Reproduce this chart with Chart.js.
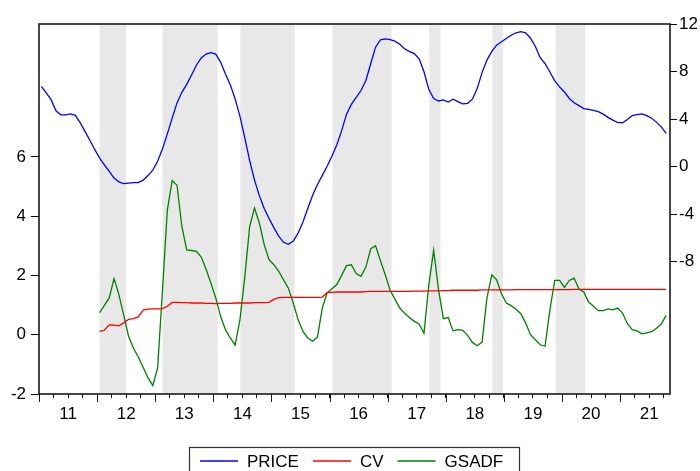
<!DOCTYPE html>
<html>
<head>
<meta charset="utf-8">
<script src="https://cdn.jsdelivr.net/npm/chart.js@4.4.0/dist/chart.umd.min.js"></script>
<style>
  html, body { margin: 0; padding: 0; background: #fff; }
</style>
</head>
<body>
<canvas id="chart" width="700" height="471"></canvas>
<script>
// monthly data, index 0 = 2011M01
const yearLabels = ['11', '12', '13', '14', '15', '16', '17', '18', '19', '20', '21'];
const testStart = 12; // CV and GSADF start in 2012M01

const price = [
  6.74, 6.2, 5.63, 4.69, 4.36, 4.35, 4.43, 4.31, 3.70, 2.96,
  2.21, 1.44, 0.73, 0.15, -0.40, -0.96, -1.30, -1.44, -1.40, -1.36,
  -1.35, -1.15, -0.76, -0.30, 0.45, 1.49, 2.75, 4.08, 5.36, 6.25,
  6.92, 7.70, 8.53, 9.14, 9.47, 9.58, 9.47, 8.79, 7.79, 6.89,
  5.69, 4.22, 2.41, 0.49, -1.14, -2.45, -3.54, -4.37, -5.14, -5.87,
  -6.38, -6.55, -6.27, -5.61, -4.66, -3.54, -2.42, -1.51, -0.74, 0.02,
  0.88, 1.83, 3.02, 4.41, 5.23, 5.82, 6.40, 7.24, 8.65, 10.05,
  10.66, 10.74, 10.68, 10.56, 10.29, 9.92, 9.68, 9.51, 9.07, 7.98,
  6.49, 5.72, 5.52, 5.61, 5.43, 5.67, 5.47, 5.28, 5.32, 5.67,
  6.58, 7.93, 8.96, 9.69, 10.22, 10.50, 10.78, 11.05, 11.26, 11.35,
  11.25, 10.80, 10.11, 9.16, 8.66, 7.96, 7.21, 6.71, 6.28, 5.73,
  5.37, 5.13, 4.88, 4.81, 4.73, 4.62, 4.41, 4.14, 3.91, 3.71,
  3.68, 3.96, 4.29, 4.37, 4.43, 4.28, 4.07, 3.74, 3.34, 2.80
];

const cv = [
  0.11, 0.15, 0.33, 0.32, 0.30, 0.40, 0.52, 0.54, 0.60, 0.83,
  0.86, 0.87, 0.87, 0.88, 0.96, 1.09, 1.09, 1.08, 1.08, 1.07,
  1.07, 1.07, 1.06, 1.06, 1.05, 1.06, 1.06, 1.06, 1.07, 1.07,
  1.07, 1.07, 1.08, 1.08, 1.08, 1.09, 1.19, 1.25, 1.26, 1.26,
  1.26, 1.26, 1.26, 1.26, 1.26, 1.26, 1.27, 1.42, 1.43, 1.44,
  1.44, 1.44, 1.44, 1.44, 1.44, 1.45, 1.46, 1.46, 1.46, 1.46,
  1.46, 1.46, 1.46, 1.46, 1.46, 1.47, 1.47, 1.47, 1.48, 1.48,
  1.48, 1.49, 1.49, 1.50, 1.50, 1.50, 1.50, 1.50, 1.50, 1.51,
  1.51, 1.51, 1.51, 1.51, 1.51, 1.51, 1.52, 1.52, 1.52, 1.52,
  1.52, 1.52, 1.52, 1.52, 1.52, 1.52, 1.52, 1.52, 1.53, 1.53,
  1.53, 1.53, 1.53, 1.53, 1.53, 1.53, 1.53, 1.53, 1.53, 1.53,
  1.53, 1.53, 1.53, 1.53, 1.53, 1.53, 1.53, 1.53
];

const gsadf = [
  0.74, 0.99, 1.24, 1.89, 1.35, 0.65, -0.05, -0.45, -0.75, -1.10,
  -1.45, -1.72, -1.12, 1.50, 4.20, 5.20, 5.04, 3.65, 2.86, 2.84,
  2.81, 2.62, 2.21, 1.74, 1.24, 0.62, 0.17, -0.11, -0.35, 0.51,
  1.95, 3.65, 4.27, 3.77, 3.04, 2.53, 2.36, 2.14, 1.85, 1.57,
  1.07, 0.51, 0.11, -0.11, -0.22, -0.08, 0.90, 1.41, 1.55, 1.69,
  2.00, 2.33, 2.36, 2.06, 1.97, 2.28, 2.90, 3.00, 2.50, 2.02,
  1.50, 1.20, 0.90, 0.72, 0.58, 0.45, 0.36, 0.05, 1.69, 2.85,
  1.52, 0.54, 0.58, 0.13, 0.17, 0.15, -0.02, -0.26, -0.37, -0.25,
  1.24, 2.02, 1.85, 1.38, 1.07, 0.98, 0.86, 0.71, 0.39, 0.00,
  -0.17, -0.34, -0.39, 0.84, 1.83, 1.83, 1.60, 1.83, 1.91, 1.54,
  1.44, 1.10, 0.96, 0.81, 0.81, 0.87, 0.84, 0.90, 0.73, 0.37,
  0.17, 0.13, 0.03, 0.06, 0.10, 0.22, 0.36, 0.65
];

// shaded bubble periods, in month index
const bubbles = [[12, 17.5], [25, 36.4], [41.1, 52.3], [60.1, 72.3], [80.1, 82.4], [93.1, 95.3], [106.2, 112.3]];

const leftTicks = [-2, 0, 2, 4, 6];
const rightTicks = [-8, -4, 0, 4, 8, 12];

const FONT = "'Liberation Sans', Arial, sans-serif";
const quarterTicks = [];
for (let k = 0; k * 3 - 0.5 <= 129.8; k++) quarterTicks.push(k * 3 - 0.5);

const extras = {
  id: 'extras',
  beforeDatasetsDraw(chart) {
    const { ctx, chartArea: a, scales: { x } } = chart;
    ctx.save();
    ctx.fillStyle = '#e8e8e8';
    bubbles.forEach(([s, e]) => {
      const x1 = x.getPixelForValue(s), x2 = x.getPixelForValue(e);
      ctx.fillRect(x1, a.top, x2 - x1, a.bottom - a.top);
    });
    ctx.restore();
  },
  afterDraw(chart) {
    const { ctx, chartArea: a, scales: { x } } = chart;
    ctx.save();
    // frame
    ctx.strokeStyle = '#1a1a1a';
    ctx.lineWidth = 1.6;
    ctx.strokeRect(a.left, a.top, a.right - a.left, a.bottom - a.top);
    // longer ticks at year boundaries
    ctx.lineWidth = 1;
    ctx.beginPath();
    quarterTicks.forEach((v, k) => {
      if (k % 4 !== 0) return;
      const px = Math.round(x.getPixelForValue(v)) + 0.5;
      ctx.moveTo(px, a.bottom);
      ctx.lineTo(px, a.bottom + 8);
    });
    ctx.stroke();
    // legend box
    ctx.strokeStyle = '#333';
    ctx.lineWidth = 1.2;
    ctx.strokeRect(189.5, 447.5, 330, 30);
    ctx.font = '17px ' + FONT;
    ctx.textBaseline = 'middle';
    ctx.fillStyle = '#000';
    let lx = 200;
    const ly = 461;
    chart.data.datasets.forEach(ds => {
      ctx.strokeStyle = ds.borderColor;
      ctx.lineWidth = 1.4;
      ctx.beginPath();
      ctx.moveTo(lx, ly);
      ctx.lineTo(lx + 38, ly);
      ctx.stroke();
      ctx.fillText(ds.label, lx + 47, ly + 1);
      lx += 47 + ctx.measureText(ds.label).width + 14;
    });
    ctx.restore();
  }
};

new Chart(document.getElementById('chart'), {
  type: 'line',
  data: {
    datasets: [
      {
        label: 'PRICE',
        data: price.map((v, i) => ({ x: i, y: v })),
        borderColor: '#0000ff',
        yAxisID: 'y2'
      },
      {
        label: 'CV',
        data: cv.map((v, i) => ({ x: i + testStart, y: v })),
        borderColor: '#ff0000',
        yAxisID: 'y'
      },
      {
        label: 'GSADF',
        data: gsadf.map((v, i) => ({ x: i + testStart, y: v })),
        borderColor: '#008000',
        yAxisID: 'y'
      }
    ]
  },
  options: {
    responsive: false,
    animation: false,
    layout: { padding: { top: 24, left: 0, right: 0, bottom: 0 } },
    elements: {
      line: { borderWidth: 1.3, tension: 0 },
      point: { radius: 0 }
    },
    plugins: { legend: { display: false }, tooltip: { enabled: false } },
    scales: {
      x: {
        type: 'linear',
        min: -0.5,
        max: 129.8,
        afterBuildTicks: s => { s.ticks = quarterTicks.map(v => ({ value: v })); },
        afterFit: s => { s.height = 77; },
        ticks: {
          autoSkip: false,
          maxRotation: 0,
          padding: 6,
          color: '#000',
          font: { family: FONT, size: 17 },
          callback: v => {
            const m = Math.round(v + 0.5);
            return m % 12 === 6 ? yearLabels[(m - 6) / 12] : '';
          }
        },
        grid: { drawOnChartArea: false, tickLength: 4, color: '#000', tickWidth: 1 },
        border: { display: false }
      },
      y: {
        position: 'left',
        min: -2,
        max: 10.48,
        afterBuildTicks: s => { s.ticks = leftTicks.map(v => ({ value: v })); },
        afterFit: s => { s.width = 39; },
        ticks: { padding: 5, color: '#000', font: { family: FONT, size: 17 } },
        grid: { drawOnChartArea: false, tickLength: 8, color: '#000', tickWidth: 1 },
        border: { display: false }
      },
      y2: {
        position: 'right',
        min: -19.15,
        max: 12,
        afterBuildTicks: s => { s.ticks = rightTicks.map(v => ({ value: v })); },
        afterFit: s => { s.width = 30; },
        ticks: { padding: 2, color: '#000', font: { family: FONT, size: 17 } },
        grid: { drawOnChartArea: false, tickLength: 7, color: '#000', tickWidth: 1 },
        border: { display: false }
      }
    }
  },
  plugins: [extras]
});
</script>
</body>
</html>
